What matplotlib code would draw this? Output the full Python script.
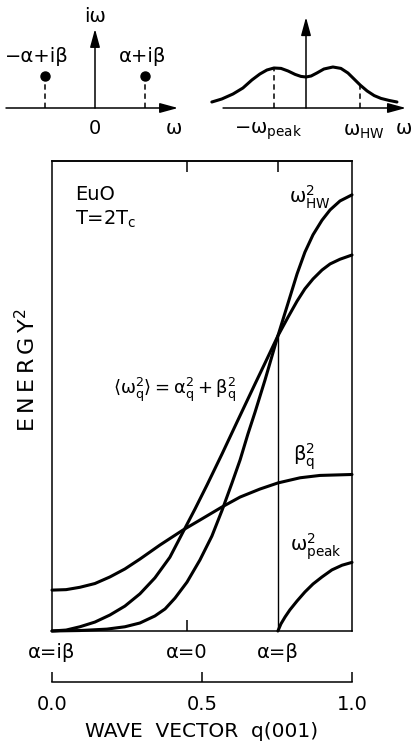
import matplotlib
matplotlib.use("Agg")
import matplotlib.pyplot as plt

plt.rcParams["font.family"] = ["DejaVu Sans"]
plt.rcParams["mathtext.fontset"] = "dejavusans"
plt.rcParams["mathtext.default"] = "regular"

W, H = 412, 746

# ---- main panel: squared energies of EuO at T = 2Tc versus wave vector q(001)
q_beta = [0.0, 0.047, 0.093, 0.143, 0.193, 0.243, 0.293, 0.36, 0.437, 0.493,
          0.567, 0.627, 0.693, 0.753, 0.827, 0.893, 1.0]
e_beta = [0.087, 0.088, 0.093, 0.101, 0.115, 0.132, 0.153, 0.183, 0.215, 0.236,
          0.264, 0.285, 0.302, 0.315, 0.326, 0.331, 0.333]

q_mean = [0.0, 0.047, 0.093, 0.143, 0.193, 0.243, 0.293, 0.343, 0.393, 0.437,
          0.477, 0.517, 0.567, 0.617, 0.677, 0.71, 0.753, 0.787, 0.817, 0.843,
          0.87, 0.9, 0.927, 0.96, 1.0]
e_mean = [0.0, 0.002, 0.009, 0.019, 0.034, 0.053, 0.079, 0.113, 0.157, 0.211,
          0.260, 0.311, 0.377, 0.445, 0.526, 0.570, 0.628, 0.668, 0.702, 0.728,
          0.749, 0.768, 0.781, 0.791, 0.8]

q_hw = [0.0, 0.093, 0.183, 0.243, 0.293, 0.343, 0.377, 0.41, 0.45, 0.493,
        0.533, 0.567, 0.6, 0.627, 0.653, 0.677, 0.71, 0.753, 0.787, 0.817,
        0.843, 0.87, 0.9, 0.927, 0.96, 1.0]
e_hw = [0.0, 0.001, 0.004, 0.009, 0.017, 0.032, 0.047, 0.070, 0.104, 0.151,
        0.202, 0.257, 0.315, 0.364, 0.419, 0.466, 0.534, 0.628, 0.698, 0.760,
        0.806, 0.843, 0.874, 0.896, 0.915, 0.928]

q_peak = [0.753, 0.763, 0.777, 0.793, 0.817, 0.843, 0.87, 0.9, 0.933, 0.967, 1.0]
e_peak = [0.0, 0.015, 0.030, 0.045, 0.064, 0.083, 0.1, 0.115, 0.13, 0.14, 0.146]

q_alpha0 = 0.45       # alpha = 0
q_alphabeta = 0.753   # alpha = beta
e_alphabeta = 0.628

regime_q = [0.0, q_alpha0, q_alphabeta]
regime_labels = ["\u03b1=i\u03b2", "\u03b1=0", "\u03b1=\u03b2"]

q_ticks = [0.0, 0.5, 1.0]
q_ticklabels = ["0.0", "0.5", "1.0"]

# ---- complex frequency plane: poles at +-alpha + i beta
pole_re = [-1.0, 1.0]
pole_im = [0.64, 0.64]

# ---- spectral shape S(omega), in units of omega_peak
w_spec = [-2.94, -2.63, -2.28, -1.97, -1.69, -1.44, -1.22, -1.0, -0.78, -0.56,
          -0.34, -0.16, 0.0, 0.16, 0.34, 0.56, 0.84, 1.09, 1.31, 1.5,
          1.69, 1.91, 2.13, 2.34, 2.59, 2.84]
s_spec = [0.15, 0.225, 0.35, 0.5, 0.7, 0.85, 0.95, 1.0, 0.99, 0.925,
          0.84, 0.79, 0.775, 0.8, 0.875, 0.975, 1.025, 0.99, 0.875, 0.725,
          0.575, 0.425, 0.31, 0.24, 0.19, 0.15]
w_peak = -1.0
w_hw = 1.69

FS = 14
LW_CURVE = 2.2
LW_AX = 1.1


def px_rect(x0, y0, x1, y1):
    """Axes rectangle from pixel corners (origin top-left)."""
    return [x0 / W, 1 - y1 / H, (x1 - x0) / W, (y1 - y0) / H]


def ftext(x, y, s, **kw):
    kw.setdefault("fontsize", FS)
    kw.setdefault("ha", "center")
    kw.setdefault("va", "center")
    fig.text(x / W, 1 - y / H, s, **kw)


def arrow(ax, start, tip):
    ax.annotate("", xy=tip, xytext=start,
                arrowprops=dict(arrowstyle="-|>,head_length=1.1,head_width=0.3",
                                mutation_scale=10, lw=LW_AX, color="k",
                                shrinkA=0, shrinkB=0))


fig = plt.figure(figsize=(W / 100, H / 100), dpi=100)

# ---------------- complex plane inset ----------------
axc = fig.add_axes(px_rect(0, 0, 200, 140))
axc.set_xlim(-1.9, 2.1)
axc.set_ylim(-0.64, 2.16)
axc.axis("off")
arrow(axc, (-1.78, 0), (1.66, 0))
arrow(axc, (0, 0), (0, 1.58))
axc.vlines(pole_re, 0, pole_im, colors="k", lw=LW_AX, linestyles=(0, (3.5, 2.5)))
axc.plot(pole_re, pole_im, "o", color="k", ms=6.5)
ftext(37, 57, "\u2212\u03b1+i\u03b2")
ftext(143, 57, "\u03b1+i\u03b2")
ftext(95, 17, "i\u03c9")
ftext(95, 128, "0")
ftext(174, 128, "\u03c9")

# ---------------- spectral shape inset ----------------
axs = fig.add_axes(px_rect(200, 0, 412, 140))
axs.set_xlim(-3.31, 3.31)
axs.set_ylim(-0.8, 2.7)
axs.axis("off")
arrow(axs, (-2.59, 0), (3.12, 0))
arrow(axs, (0, 0), (0, 2.27))
axs.plot(w_spec, s_spec, color="k", lw=LW_CURVE, solid_capstyle="round",
         solid_joinstyle="round")
axs.vlines([w_peak, w_hw], 0,
           [s_spec[w_spec.index(w_peak)], s_spec[w_spec.index(w_hw)]],
           colors="k", lw=LW_AX, linestyles=(0, (3.5, 2.5)))
ftext(268, 131, r"$-\omega_{peak}$")
ftext(364, 131, r"$\omega_{HW}$")
ftext(404, 128, "\u03c9")

# ---------------- main panel ----------------
ax = fig.add_axes(px_rect(52, 161, 352, 631))
ax.set_xlim(0, 1)
ax.set_ylim(0, 1)
for curve_q, curve_e in ((q_beta, e_beta), (q_mean, e_mean), (q_hw, e_hw),
                         (q_peak, e_peak)):
    ax.plot(curve_q, curve_e, color="k", lw=LW_CURVE, solid_capstyle="round",
            solid_joinstyle="round", clip_on=False)
ax.vlines(q_alphabeta, 0, e_alphabeta, colors="k", lw=1.0)
for sp in ax.spines.values():
    sp.set_linewidth(LW_AX)
ax.set_yticks([])
ax.set_xticks([q_alpha0])
ax.tick_params(axis="x", direction="in", length=8, width=LW_AX, labelbottom=False)
top = ax.secondary_xaxis("top")
top.set_xticks([q_alpha0, q_alphabeta])
top.set_xticklabels(["", ""])
top.tick_params(direction="in", length=8, width=LW_AX)
top.spines["top"].set_linewidth(LW_AX)

ftext(75, 195, "EuO", ha="left")
ftext(75, 219, r"T=2T$_c$", ha="left")
ftext(310, 197, r"$\omega^2_{HW}$")
ftext(175, 390,
      r"$\langle\omega^2_q\rangle$" + "\u2009=\u2009" + r"$\alpha^2_q$"
      + "\u2009+\u2009" + r"$\beta^2_q$", fontsize=13)
ftext(304, 457, r"$\beta^2_q$")
ftext(316, 547, r"$\omega^2_{peak}$")
ftext(27, 370, "E\u2009N\u2009E\u2009R\u2009G\u2009Y$^2$", rotation=90, fontsize=16)

for q, s in zip(regime_q, regime_labels):
    ftext(52 + 300 * q, 653, s)

# ---------------- wave-vector scale ----------------
axq = fig.add_axes(px_rect(52, 681.9, 352, 682))
axq.set_xlim(0, 1)
axq.set_ylim(0, 1)
for side in ("top", "left", "right"):
    axq.spines[side].set_visible(False)
axq.spines["bottom"].set_linewidth(LW_AX)
axq.set_yticks([])
axq.set_xticks(q_ticks)
axq.set_xticklabels(q_ticklabels)
axq.tick_params(axis="x", direction="in", length=7, width=LW_AX, pad=9,
                labelsize=FS)
axq.set_xlabel("WAVE  VECTOR  q(001)", fontsize=14.5, labelpad=6)

fig.savefig("out.png", dpi=100)
